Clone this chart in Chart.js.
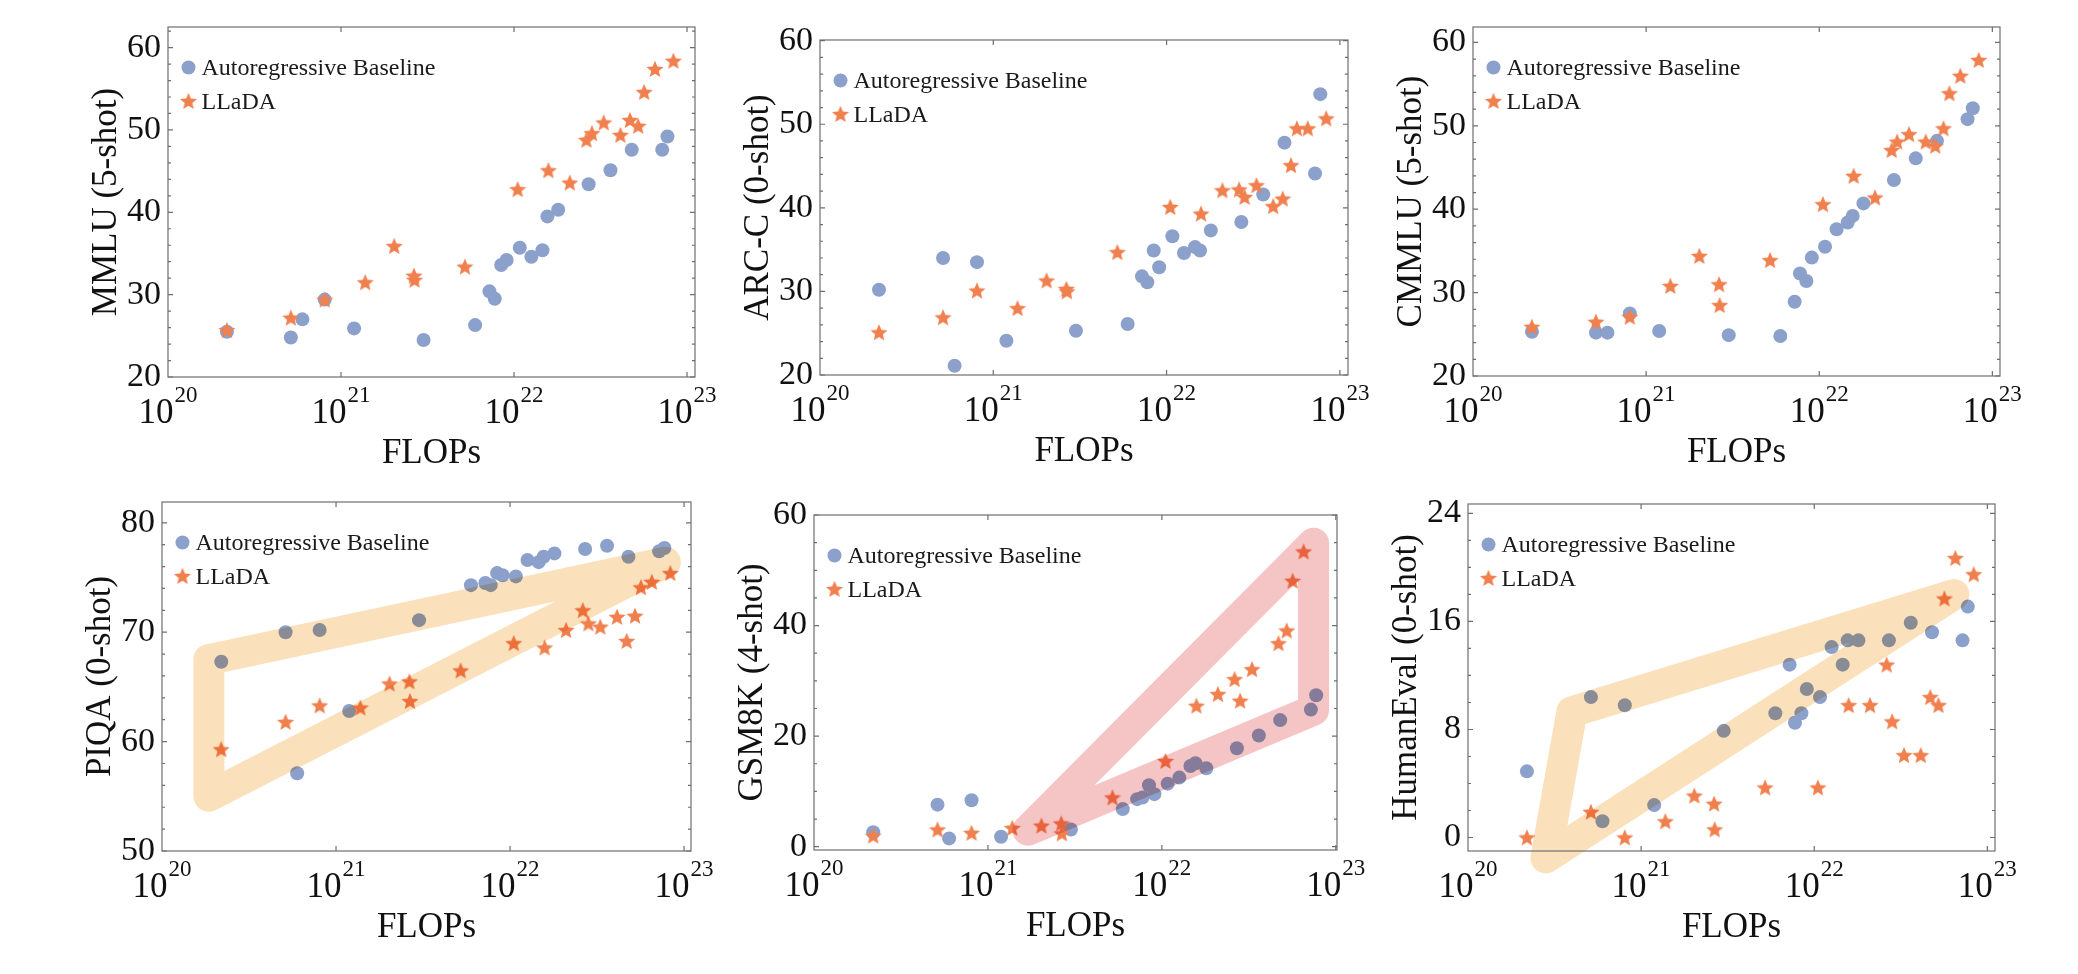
<!DOCTYPE html>
<html>
<head>
<meta charset="utf-8">
<title>LLaDA vs Autoregressive Baseline - scaling with FLOPs</title>
<script src="https://cdn.jsdelivr.net/npm/chart.js@4.4.1/dist/chart.umd.min.js"></script>
<style>
  html, body { margin: 0; padding: 0; background: #fff; }
  body { width: 2078px; height: 974px; position: relative; overflow: hidden; }
  canvas { position: absolute; }
</style>
</head>
<body>
<script>
// training FLOPs of the checkpoints (same for every benchmark)
const AR_FLOPS = [2.19e20, 5.13e20, 5.98e20, 8.05e20, 1.19e21, 3.0e21, 5.96e21, 7.21e21, 7.74e21, 8.43e21, 9.06e21,
                  1.08e22, 1.26e22, 1.46e22, 1.56e22, 1.80e22, 2.70e22, 3.61e22, 4.79e22, 7.19e22, 7.71e22];
const LLADA_FLOPS = [2.19e20, 5.13e20, 8.05e20, 1.38e21, 2.03e21, 2.64e21, 2.66e21, 5.20e21, 1.05e22, 1.58e22,
                     2.10e22, 2.62e22, 2.82e22, 3.30e22, 4.12e22, 4.68e22, 5.22e22, 5.65e22, 6.53e22, 8.34e22];

// scores, same order as the FLOPs arrays (null = no point)
const MMLU_AR = [25.5, 24.8, 27.0, 29.4, 25.9, 24.5, 26.3, 30.4, 29.5, 33.6, 34.2, 35.7, 34.6, 35.4, 39.5, 40.3, 43.4, 45.1, 47.6, 47.6, 49.2];
const MMLU_LLADA = [25.7, 27.2, 29.4, 31.5, 35.9, 32.3, 31.8, 33.4, 42.8, 45.1, 43.6, 48.8, 49.6, 50.9, 49.4, 51.2, 50.5, 54.6, 57.4, 58.4];
const ARC_AR = [30.2, 34.0, 21.1, 33.5, 24.1, 25.3, 26.1, 31.8, 31.1, 34.9, 32.9, 36.6, 34.6, 35.3, 34.9, 37.3, 38.3, 41.6, 47.8, 44.1, 53.6];
const ARC_LLADA = [25.1, 26.9, 30.1, 28.0, 31.3, 30.3, 30.0, 34.7, 40.1, 39.3, 42.1, 42.2, 41.3, 42.7, 40.2, 41.1, 45.1, 49.5, 49.5, 50.7];
const CMMLU_AR = [25.3, 25.2, 25.2, 27.5, 25.4, 24.9, 24.8, 28.9, 32.3, 31.4, 34.2, 35.5, 37.6, 38.4, 39.2, 40.7, 43.5, 46.1, 48.2, 50.8, 52.1];
const CMMLU_LLADA = [25.9, 26.5, 27.1, 30.8, 34.4, 31.0, 28.5, 33.9, 40.6, 44.0, 41.4, 47.1, 48.1, 49.0, 48.1, 47.6, 49.7, 53.9, 56.0, 57.9];
const PIQA_AR = [67.3, 70.0, 57.1, 70.2, 62.8, 71.1, 74.3, 74.5, 74.3, 75.4, 75.2, 75.1, 76.6, 76.4, 76.9, 77.2, 77.6, 77.9, 76.9, 77.4, 77.7];
const PIQA_LLADA = [59.3, 61.8, 63.3, 63.1, 65.3, 65.5, 63.7, 66.5, 69.0, 68.6, 70.2, 72.0, 70.8, 70.5, 71.4, 69.2, 71.5, 74.1, 74.6, 75.4];
const GSM_AR = [2.6, 7.6, 1.5, 8.4, 1.8, 3.1, 6.8, 8.6, 8.9, 11.1, 9.5, 11.4, 12.5, 14.6, 15.1, 14.2, 17.8, 20.1, 22.9, 24.8, 27.4];
const GSM_LLADA = [2.0, 3.1, 2.5, 3.4, 3.8, 4.2, 2.4, 8.9, 15.5, 25.5, 27.6, 30.3, 26.4, 32.1, null, 36.8, 39.1, 48.1, 53.4, null];
const HE_AR = [4.9, 10.4, 1.2, 9.8, 2.4, 7.9, 9.2, 12.8, 8.5, 9.2, 11.0, 10.4, 14.1, 12.8, 14.6, 14.6, 14.6, 15.9, 15.2, 14.6, 17.1];
const HE_LLADA = [0.0, 1.9, 0.0, 1.2, 3.1, 2.5, 0.6, 3.7, 3.7, 9.8, 9.8, 12.8, 8.6, 6.1, 6.1, 10.4, 9.8, 17.7, 20.7, 19.5];

// highlight triangles (closed paths)
const PIQA_BAND_X = [1.86e20, 7.82e22, 1.86e20, 1.86e20];
const PIQA_BAND_Y = [67.5, 76.4, 55.0, 67.5];
const GSM_BAND_X = [1.70e21, 7.45e22, 7.45e22, 1.70e21];
const GSM_BAND_Y = [3.0, 54.9, 24.7, 3.0];
const HE_BAND_X = [3.98e20, 6.41e22, 2.82e20, 3.98e20];
const HE_BAND_Y = [9.3, 18.0, -1.5, 9.3];

// ticks
const X_TICKS = [1e20, 1e21, 1e22, 1e23];
const X_EXP = ['20', '21', '22', '23'];
const Y_TICKS_40 = [20, 30, 40, 50, 60];
const Y_TICKS_PIQA = [50, 60, 70, 80];
const Y_TICKS_GSM = [0, 20, 40, 60];
const Y_TICKS_HE = [0, 8, 16, 24];

const SERIF = '"Liberation Serif", "Times New Roman", serif';
const DOT_COLOR = '#8BA0CA';
const STAR_COLOR = '#F1804F';
const PAD_L = 130, PAD_T = 28, PAD_R = 45, PAD_B = 110;

// filled five point star used as point style
function makeStar(color, R) {
    const c = document.createElement('canvas');
    const s = Math.ceil(R * 2 + 2);
    c.width = s; c.height = s;
    const g = c.getContext('2d');
    g.fillStyle = color;
    g.beginPath();
    for (let i = 0; i < 10; i++) {
        const rr = i % 2 ? R * 0.45 : R;
        const ang = -Math.PI / 2 + i * Math.PI / 5;
        g.lineTo(s / 2 + rr * Math.cos(ang), s / 2 + rr * Math.sin(ang) + R * 0.08);
    }
    g.closePath();
    g.fill();
    return c;
}
const starImg = makeStar(STAR_COLOR, 9);

function pts(xs, ys) {
    const out = [];
    xs.forEach((x, i) => { if (ys[i] !== null) out.push({ x: x, y: ys[i] }); });
    return out;
}

// multiply blend for the highlight bands
const bandBlend = {
    id: 'bandBlend',
    beforeDatasetDraw(chart, args) {
        if (chart.data.datasets[args.index].band) {
            chart.ctx.save();
            chart.ctx.globalCompositeOperation = 'multiply';
        }
    },
    afterDatasetDraw(chart, args) {
        if (chart.data.datasets[args.index].band) chart.ctx.restore();
    }
};

// Mathematica-like frame: inward ticks, 10^n labels, titles, legend
const framePlugin = {
    id: 'frame',
    afterDraw(chart, args, opts) {
        const ctx = chart.ctx, a = chart.chartArea;
        const xs = chart.scales.x, ys = chart.scales.y;
        ctx.save();
        ctx.strokeStyle = '#6e6e6e';
        ctx.lineWidth = 1.2;
        ctx.strokeRect(a.left, a.top, a.right - a.left, a.bottom - a.top);

        ctx.beginPath();
        X_TICKS.forEach(v => {
            const px = xs.getPixelForValue(v);
            if (px < a.left + 1 || px > a.right - 1) return;
            ctx.moveTo(px, a.bottom); ctx.lineTo(px, a.bottom - 5);
            ctx.moveTo(px, a.top); ctx.lineTo(px, a.top + 5);
        });
        for (let v = Math.ceil(ys.min / opts.minor) * opts.minor; v <= ys.max; v += opts.minor) {
            const py = ys.getPixelForValue(v);
            const len = opts.majors.includes(v) ? 5 : 3;
            ctx.moveTo(a.left, py); ctx.lineTo(a.left + len, py);
            ctx.moveTo(a.right, py); ctx.lineTo(a.right - len, py);
        }
        ctx.stroke();

        // x tick labels with exponents
        ctx.fillStyle = '#111';
        ctx.textAlign = 'left';
        ctx.textBaseline = 'alphabetic';
        X_TICKS.forEach((v, i) => {
            const px = xs.getPixelForValue(v);
            ctx.font = '35px ' + SERIF;
            const w1 = ctx.measureText('10').width;
            ctx.font = '23px ' + SERIF;
            const w2 = ctx.measureText(X_EXP[i]).width;
            const x0 = px - (w1 + w2 + 1) / 2;
            ctx.font = '35px ' + SERIF;
            ctx.fillText('10', x0, a.bottom + 46);
            ctx.font = '23px ' + SERIF;
            ctx.fillText(X_EXP[i], x0 + w1 + 1, a.bottom + 24.5);
        });

        // axis titles
        ctx.font = '35px ' + SERIF;
        ctx.textAlign = 'center';
        ctx.fillText('FLOPs', (a.left + a.right) / 2, a.bottom + 85.5);
        ctx.save();
        ctx.translate(a.left - 52, (a.top + a.bottom) / 2);
        ctx.rotate(-Math.PI / 2);
        ctx.fillText(opts.title, 0, 0);
        ctx.restore();

        // legend
        const lx = a.left + 20.5;
        ctx.fillStyle = DOT_COLOR;
        ctx.beginPath();
        ctx.arc(lx, a.top + 40.5, 7, 0, Math.PI * 2);
        ctx.fill();
        ctx.drawImage(starImg, lx - starImg.width / 2, a.top + 74 - starImg.height / 2);
        ctx.fillStyle = '#1a1a1a';
        ctx.textAlign = 'left';
        ctx.font = '24px ' + SERIF;
        ctx.fillText('Autoregressive Baseline', a.left + 33.5, a.top + 48);
        ctx.fillText('LLaDA', a.left + 33.5, a.top + 81.5);
        ctx.restore();
    }
};

// plot areas measured on the page: [left, top, right, bottom]
const PANELS = [
    { title: 'MMLU (5-shot)', ar: MMLU_AR, llada: MMLU_LLADA, area: [167.5, 27.3, 695.3, 376.5],
      xMax: 1.112e23, yMin: 20, yMax: 62.5, yTicks: Y_TICKS_40, minor: 2 },
    { title: 'ARC-C (0-shot)', ar: ARC_AR, llada: ARC_LLADA, area: [820, 40, 1348, 375.4],
      xMax: 1.114e23, yMin: 20, yMax: 60.08, yTicks: Y_TICKS_40, minor: 2 },
    { title: 'CMMLU (5-shot)', ar: CMMLU_AR, llada: CMMLU_LLADA, area: [1472.5, 27.3, 2000, 375.7],
      xMax: 1.107e23, yMin: 20, yMax: 61.85, yTicks: Y_TICKS_40, minor: 2 },
    { title: 'PIQA (0-shot)', ar: PIQA_AR, llada: PIQA_LLADA, area: [162, 502.3, 690.5, 850.7],
      xMax: 1.096e23, yMin: 50, yMax: 81.9, yTicks: Y_TICKS_PIQA, minor: 2,
      bandX: PIQA_BAND_X, bandY: PIQA_BAND_Y, bandColor: '#FBE0BC' },
    { title: 'GSM8K (4-shot)', ar: GSM_AR, llada: GSM_LLADA, area: [814.3, 515, 1337, 850],
      xMax: 1.016e23, yMin: -0.6, yMax: 60, yTicks: Y_TICKS_GSM, minor: 5,
      bandX: GSM_BAND_X, bandY: GSM_BAND_Y, bandColor: '#F5C4C4' },
    { title: 'HumanEval (0-shot)', ar: HE_AR, llada: HE_LLADA, area: [1467.7, 504.3, 1995, 850.7],
      xMax: 1.107e23, yMin: -1.0, yMax: 24.7, yTicks: Y_TICKS_HE, minor: 2,
      bandX: HE_BAND_X, bandY: HE_BAND_Y, bandColor: '#FBE0BC' }
];

PANELS.forEach(p => {
    const [l, t, r, b] = p.area.map(Math.round);
    const cv = document.createElement('canvas');
    cv.width = r - l + PAD_L + PAD_R;
    cv.height = b - t + PAD_T + PAD_B;
    cv.style.left = (l - PAD_L) + 'px';
    cv.style.top = (t - PAD_T) + 'px';
    document.body.appendChild(cv);

    const datasets = [];
    if (p.bandX) {
        datasets.push({
            band: true, data: pts(p.bandX, p.bandY), showLine: true,
            borderColor: p.bandColor, borderWidth: 31, borderJoinStyle: 'round', borderCapStyle: 'round',
            pointRadius: 0, fill: false, tension: 0, clip: false
        });
    }
    datasets.push({ label: 'LLaDA', data: pts(LLADA_FLOPS, p.llada), pointStyle: starImg, pointRadius: 8 });
    datasets.push({
        label: 'Autoregressive Baseline', data: pts(AR_FLOPS, p.ar),
        pointStyle: 'circle', pointRadius: 7, backgroundColor: DOT_COLOR, borderWidth: 0
    });

    new Chart(cv, {
        type: 'scatter',
        data: { datasets: datasets },
        options: {
            responsive: false,
            animation: false,
            events: [],
            layout: { padding: { left: 0, top: PAD_T, right: PAD_R, bottom: 0 } },
            plugins: {
                legend: { display: false },
                tooltip: { enabled: false },
                frame: { title: p.title, minor: p.minor, majors: p.yTicks }
            },
            scales: {
                x: {
                    type: 'logarithmic', min: 1e20, max: p.xMax,
                    ticks: { display: false },
                    grid: { display: false, drawTicks: false },
                    border: { display: false },
                    afterBuildTicks: s => { s.ticks = X_TICKS.map(v => ({ value: v })); },
                    afterFit: s => { s.height = PAD_B; }
                },
                y: {
                    type: 'linear', min: p.yMin, max: p.yMax,
                    grid: { display: false, drawTicks: false },
                    border: { display: false },
                    ticks: { padding: 7, color: '#111', font: { family: SERIF, size: 34 }, callback: v => String(v) },
                    afterBuildTicks: s => { s.ticks = p.yTicks.map(v => ({ value: v })); },
                    afterFit: s => { s.width = PAD_L; }
                }
            }
        },
        plugins: [bandBlend, framePlugin]
    });
});
</script>
</body>
</html>
